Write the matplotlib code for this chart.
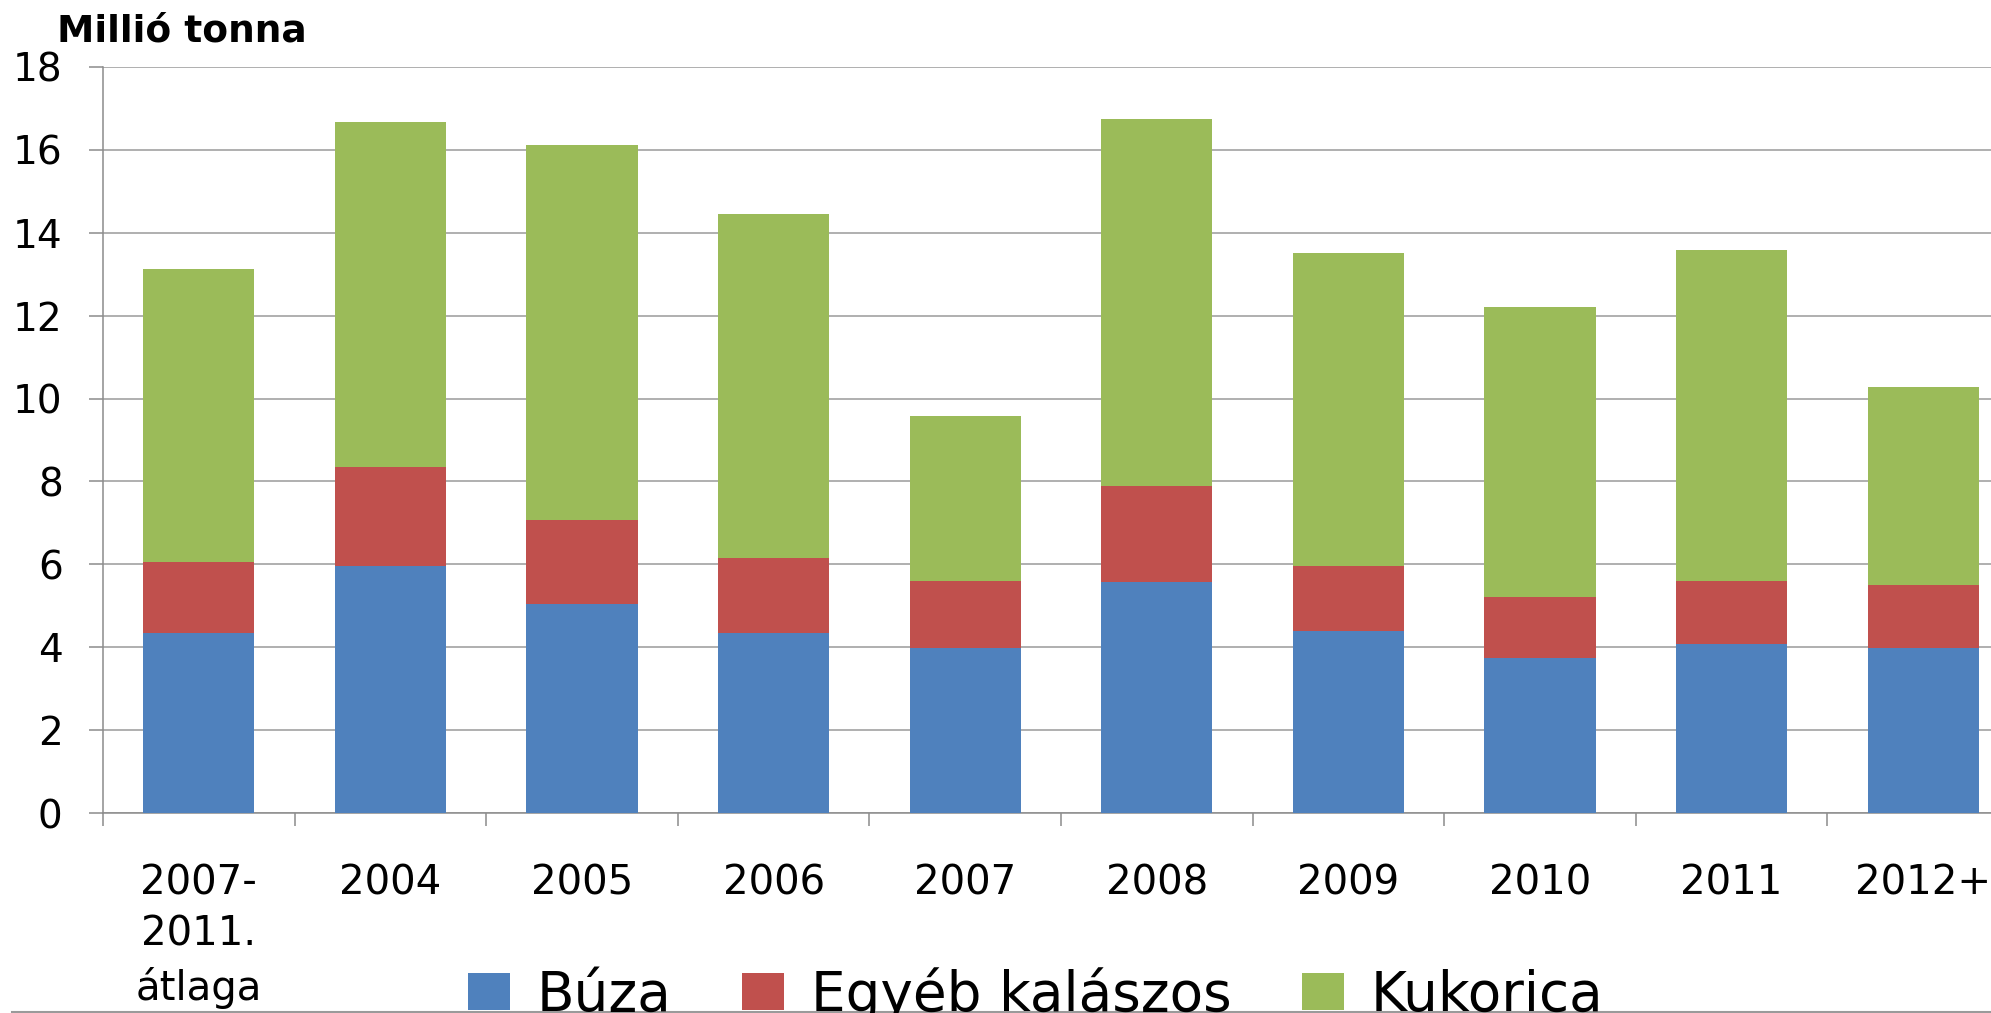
import matplotlib
matplotlib.use("Agg")
import matplotlib.pyplot as plt
from matplotlib.lines import Line2D
from matplotlib.ticker import MultipleLocator
import numpy as np

# categories and values (million tonnes)
categories = ["2007-\n2011.\nátlaga", "2004", "2005", "2006", "2007",
              "2008", "2009", "2010", "2011", "2012+"]
buza = [4.35, 5.97, 5.05, 4.35, 3.98, 5.57, 4.38, 3.75, 4.07, 3.99]
egyeb = [1.71, 2.39, 2.02, 1.80, 1.62, 2.33, 1.59, 1.45, 1.53, 1.52]
kukorica = [7.07, 8.32, 9.06, 8.30, 3.98, 8.84, 7.53, 7.01, 7.99, 4.76]

series_names = ["Búza", "Egyéb kalászos", "Kukorica"]
colors = ["#4F81BD", "#C0504D", "#9BBB59"]

plt.rcParams["font.family"] = "DejaVu Sans"

fig = plt.figure(figsize=(19.91, 10.13), dpi=100)
# axes runs past the right edge, like the cropped original
ax = fig.add_axes([103 / 1991, 200 / 1013, 1916 / 1991, 746 / 1013])

x = np.arange(len(categories))
w = 0.58
bottom2 = np.array(buza) + np.array(egyeb)
ax.bar(x, buza, w, color=colors[0], label=series_names[0], zorder=3)
ax.bar(x, egyeb, w, bottom=buza, color=colors[1], label=series_names[1], zorder=3)
ax.bar(x, kukorica, w, bottom=bottom2, color=colors[2], label=series_names[2], zorder=3)

ax.set_xlim(-0.5, len(categories) - 0.5)
ax.set_ylim(0, 18)
ax.yaxis.set_major_locator(MultipleLocator(2))
ax.grid(axis="y", color="#9a9a9a", linewidth=1.1)
ax.set_axisbelow(True)

for s in ["top", "right"]:
    ax.spines[s].set_visible(False)
for s in ["left", "bottom"]:
    ax.spines[s].set_color("#8c8c8c")
    ax.spines[s].set_linewidth(1.1)

ax.set_xticks(x)
ax.set_xticklabels(categories, fontsize=29, linespacing=1.38)
ax.set_xticks(np.arange(len(categories) + 1) - 0.5, minor=True)
ax.tick_params(axis="x", which="major", length=0, pad=36)
ax.tick_params(axis="x", which="minor", length=9.5, width=1.1, color="#8c8c8c")
ax.tick_params(axis="y", length=10, width=1.1, color="#8c8c8c", pad=19, labelsize=28)

fig.text(57 / 1991, 971 / 1013, "Millió tonna", fontsize=27, fontweight="bold",
         va="baseline", ha="left")

# legend sits on the bottom edge and is cut there, as in the original
fig.legend(loc="upper left", bbox_to_anchor=(468 / 1991, 46 / 1013), ncol=3,
           frameon=False, fontsize=39.5, borderpad=0, borderaxespad=0,
           handlelength=0.765, handleheight=0.66, handletextpad=0.49,
           columnspacing=1.28)

fig.add_artist(Line2D([12 / 1991, 1.0], [1.5 / 1013, 1.5 / 1013],
                      color="#9a9a9a", linewidth=1.5, transform=fig.transFigure))

fig.savefig("out.png", dpi=100)
